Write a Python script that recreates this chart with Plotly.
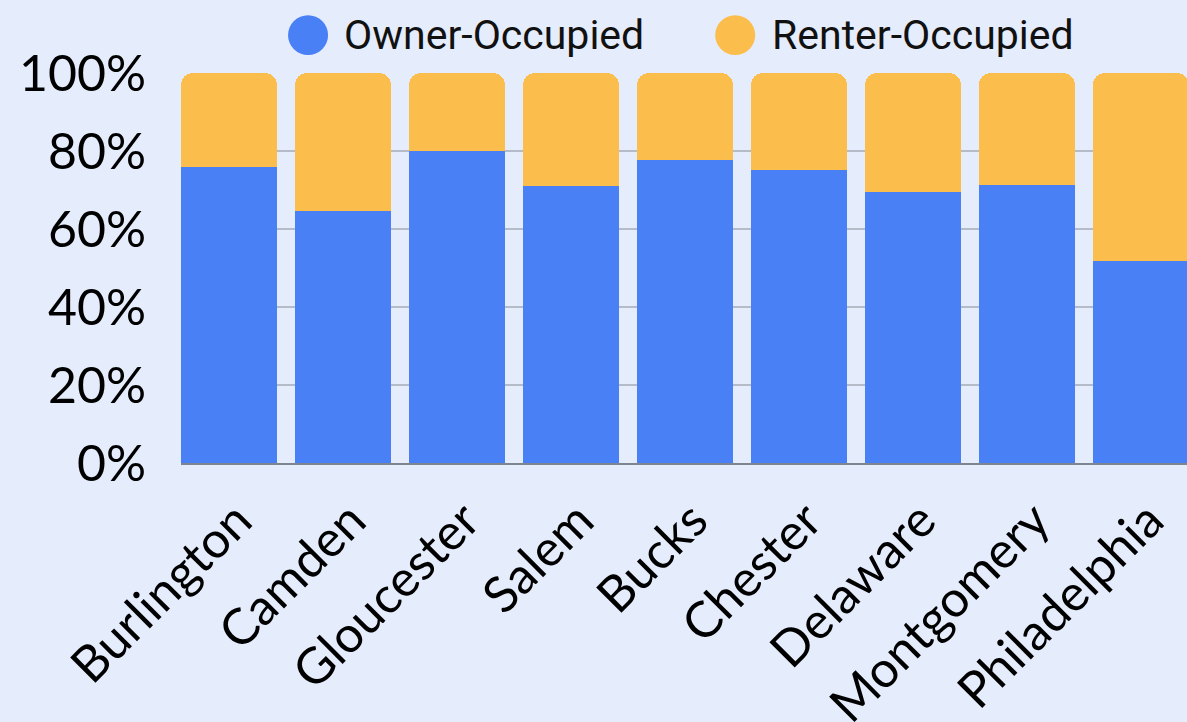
import plotly.graph_objects as go

counties = ["Burlington", "Camden", "Gloucester", "Salem", "Bucks",
            "Chester", "Delaware", "Montgomery", "Philadelphia"]
owner_pct = [76.0, 64.6, 80.0, 71.0, 77.7, 75.1, 69.5, 71.3, 51.8]
renter_pct = [24.0, 35.4, 20.0, 29.0, 22.3, 24.9, 30.5, 28.7, 48.2]
series_names = ["Owner-Occupied", "Renter-Occupied"]
y_ticks = [0, 20, 40, 60, 80, 100]
y_tick_labels = ["0%", "20%", "40%", "60%", "80%", "100%"]

BLUE = "#4A80F6"
YELLOW = "#FBBE4C"
BG = "#E5ECFC"

fig = go.Figure()
for name, vals, col in zip(series_names, [owner_pct, renter_pct], [BLUE, YELLOW]):
    fig.add_trace(go.Bar(x=counties, y=vals, name=name, marker_color=col,
                         marker_line_width=0, showlegend=False))

# legend drawn by hand: plotly caps legend symbols at 16px, these are ~40px
legend_x = [0.1064, 0.531]
for name, col, lx in zip(series_names, [BLUE, YELLOW], legend_x):
    fig.add_shape(type="circle", xref="paper", yref="paper",
                  x0=lx, x1=lx + 0.0398, y0=1.046, y1=1.148,
                  fillcolor=col, line_width=0)
    fig.add_annotation(text=name, xref="paper", yref="paper", x=lx + 0.054, y=1.097,
                       xanchor="left", yanchor="middle", showarrow=False,
                       font=dict(family="Roboto", size=41, color="#111111"))

fig.update_layout(
    barmode="stack",
    bargap=0.158,
    barcornerradius=12,
    width=1187, height=722,
    paper_bgcolor=BG, plot_bgcolor=BG,
    margin=dict(l=181, r=0, t=73, b=259),
    font=dict(family="Lato", color="#000000"),
)
fig.update_xaxes(range=[-0.421, 8.404], tickangle=-45, showgrid=False,
                 showline=True, linecolor="#7F8590", linewidth=2, automargin=False,
                 ticklabelshift=8, ticklabelstandoff=6,
                 tickfont=dict(size=50, family="Lato"), ticks="")
fig.update_yaxes(range=[0, 100], tickvals=y_ticks, ticktext=y_tick_labels,
                 showgrid=True, gridcolor="#B5BCC8", gridwidth=1.5, automargin=False,
                 zeroline=False, ticklabelstandoff=34,
                 tickfont=dict(size=50, family="Lato"))

fig.write_html("out.html", config={"displayModeBar": False},
               post_script="document.body.style.margin='0';")
